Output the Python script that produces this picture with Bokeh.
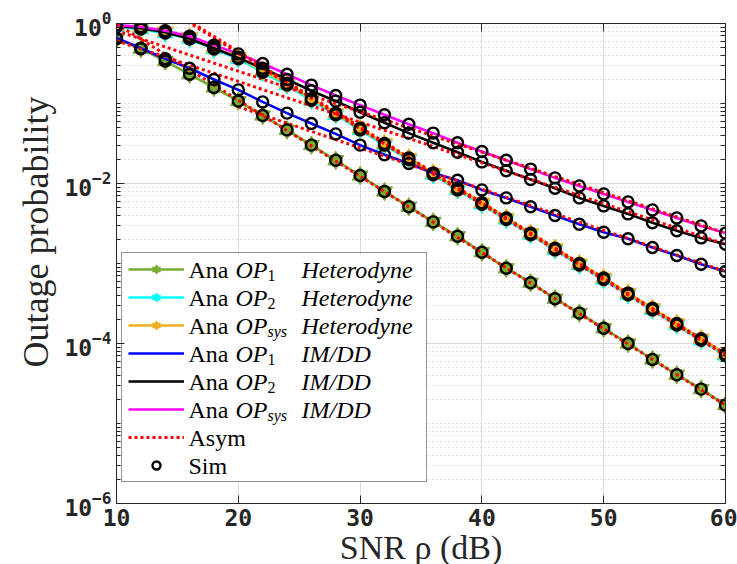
import numpy as np
from bokeh.plotting import figure
from bokeh.models import (FixedTicker, LogAxis, LinearAxis, Legend, LegendItem,
                          Range1d, BoxAnnotation, ColumnDataSource)
from bokeh.core.properties import value
from bokeh.embed import file_html
from bokeh.resources import INLINE

# ---------------- data ----------------
snr_db = [10, 12, 14, 16, 18, 20, 22, 24, 26, 28, 30, 32, 34, 36, 38, 40,
          42, 44, 46, 48, 50, 52, 54, 56, 58, 60]

# log10(outage probability)
het_op1_exp = [-0.19, -0.315, -0.47, -0.635, -0.80, -0.97, -1.15, -1.33, -1.52, -1.71,
               -1.90, -2.10, -2.29, -2.48, -2.66, -2.86, -3.06, -3.24, -3.44, -3.62,
               -3.81, -4.00, -4.20, -4.39, -4.57, -4.77]
het_op2_exp = [-0.04, -0.07, -0.12, -0.19, -0.32, -0.44, -0.61, -0.77, -0.96, -1.14,
               -1.33, -1.52, -1.70, -1.89, -2.08, -2.26, -2.45, -2.64, -2.83, -3.02,
               -3.20, -3.39, -3.58, -3.77, -3.96, -4.15]
het_sys_exp = [-0.025, -0.05, -0.10, -0.17, -0.30, -0.42, -0.59, -0.75, -0.94, -1.12,
               -1.31, -1.50, -1.68, -1.87, -2.06, -2.24, -2.43, -2.62, -2.81, -3.00,
               -3.18, -3.37, -3.56, -3.75, -3.94, -4.13]
imdd_op1_exp = [-0.18, -0.31, -0.44, -0.56, -0.70, -0.83, -0.98, -1.12, -1.25, -1.38,
                -1.52, -1.64, -1.75, -1.87, -1.96, -2.08, -2.18, -2.29, -2.40, -2.51,
                -2.61, -2.69, -2.80, -2.90, -3.01, -3.10]
imdd_op2_exp = [-0.03, -0.06, -0.11, -0.19, -0.31, -0.43, -0.56, -0.70, -0.84, -0.97,
                -1.11, -1.24, -1.37, -1.49, -1.61, -1.73, -1.84, -1.95, -2.06, -2.18,
                -2.28, -2.38, -2.49, -2.59, -2.68, -2.76]
imdd_sys_exp = [-0.02, -0.04, -0.09, -0.16, -0.27, -0.38, -0.50, -0.635, -0.77, -0.90,
                -1.02, -1.14, -1.26, -1.37, -1.49, -1.60, -1.71, -1.82, -1.93, -2.03,
                -2.13, -2.23, -2.33, -2.43, -2.53, -2.62]

# asymptotes: straight lines between two end SNRs (log10 values)
asym_het_snr = [10, 60]
asym_het_op1_exp = [-0.005, -4.77]
asym_het_op2_exp = [0.575, -4.15]
asym_het_sys_exp = [0.595, -4.13]
asym_imdd_op1_snr = [20, 60]
asym_imdd_op1_exp = [-1.04, -3.10]
asym_imdd_snr = [10, 60]
asym_imdd_op2_exp = [-0.215, -2.76]
asym_imdd_sys_exp = [-0.09, -2.62]

x_ticks = [10, 20, 30, 40, 50, 60]
y_ticks = [1e-6, 1e-4, 1e-2, 1e0]

# legend texts
legend_subs = ["1", "2", "sys", "1", "2", "sys"]
legend_modes = ["Heterodyne", "Heterodyne", "Heterodyne", "IM/DD", "IM/DD", "IM/DD"]
legend_extra = ["Asym", "Sim"]


def p10(e):
    return list(10.0 ** np.asarray(e, dtype=float))


# ---------------- figure ----------------
FW, FH = 609, 480
X0, X1, Y0, Y1 = 10, 60, 1e-6, 1
p = figure(frame_width=FW, frame_height=FH,
           min_border_left=116, min_border_right=12, min_border_top=23, min_border_bottom=61,
           x_range=Range1d(X0, X1), y_range=Range1d(Y0, Y1), y_axis_type="log",
           output_backend="svg", toolbar_location=None)
p.background_fill_color = "white"
p.border_fill_color = "white"
p.outline_line_color = "#262626"
p.outline_line_width = 1

AX = "#262626"
minor_y = [m * 10.0 ** k for k in range(-6, 0) for m in range(1, 10)]
yticker = FixedTicker(ticks=y_ticks, minor_ticks=minor_y)
xticker = FixedTicker(ticks=x_ticks, minor_ticks=[])

for ax in (p.xaxis[0], p.yaxis[0]):
    ax.axis_line_color = AX
    ax.major_tick_line_color = AX
    ax.minor_tick_line_color = AX
    ax.major_tick_in = 8
    ax.major_tick_out = 0
    ax.minor_tick_in = 4
    ax.minor_tick_out = 0
    ax.major_label_text_font = "DejaVu Sans Mono"
    ax.major_label_text_font_style = "bold"
    ax.major_label_text_font_size = "23px"
    ax.major_label_text_color = AX
    ax.axis_label_text_font = "Liberation Serif"
    ax.axis_label_text_font_style = "normal"
    ax.axis_label_text_color = AX

p.xaxis[0].ticker = xticker
p.yaxis[0].ticker = yticker
p.xaxis[0].axis_label = "SNR ρ (dB)"
p.xaxis[0].axis_label_text_font_size = "34px"
# leading no-break spaces lift the title a little along the axis, as in the original
p.yaxis[0].axis_label = "\u00a0" * 7 + "Outage probability"
p.yaxis[0].axis_label_text_font_size = "36px"
p.xaxis[0].major_label_standoff = 5
p.yaxis[0].major_label_standoff = 5
p.xaxis[0].axis_label_standoff = 0
p.yaxis[0].axis_label_standoff = 5

# box ticks on the right and top (tick marks only, no labels)
right = LogAxis(ticker=FixedTicker(ticks=[], minor_ticks=minor_y),
                major_tick_in=0, major_tick_out=0, minor_tick_in=5, minor_tick_out=0,
                axis_line_color=AX, minor_tick_line_color=AX)
top = LinearAxis(ticker=FixedTicker(ticks=[], minor_ticks=x_ticks),
                 major_tick_in=0, major_tick_out=0, minor_tick_in=8, minor_tick_out=0,
                 axis_line_color=AX, minor_tick_line_color=AX)
p.add_layout(right, "right")
p.add_layout(top, "above")

p.xgrid.ticker = xticker
p.ygrid.ticker = yticker
p.xgrid.grid_line_color = "#DCDCDC"
p.ygrid.grid_line_color = "#DCDCDC"
p.ygrid.minor_grid_line_color = "#C4C4C4"
p.ygrid.minor_grid_line_dash = "1 3"
p.ygrid.minor_grid_line_width = 1

# ---------------- glyphs ----------------
GREEN, CYAN, ORANGE = "#77AC30", "#00FFFF", "#EDB120"
BLUE, BLACK, MAGENTA, RED = "#0000FF", "#000000", "#FF00FF", "#FF0000"
LW = 2.6
STAR = 16

# legend geometry (screen pixels, relative to the plot frame's bottom-left)
PAD, GW, GH, SP, STANDOFF, LABW = 6, 56, 20, 8, 5, 231
LEG_X, LEG_Y = 5, 21
N_ITEMS = 8
leg_h = 2 * PAD + N_ITEMS * GH + (N_ITEMS - 1) * SP
leg_w = 2 * PAD + GW + STANDOFF + LABW

# white legend background (under the legend's glyph samples and the label texts)
p.add_layout(BoxAnnotation(left=LEG_X, right=LEG_X + leg_w, bottom=LEG_Y, top=LEG_Y + leg_h,
                           left_units="screen", right_units="screen",
                           bottom_units="screen", top_units="screen",
                           fill_color="white", fill_alpha=1.0, line_alpha=0,
                           level="underlay"))

het_series = [(het_op1_exp, GREEN), (het_op2_exp, CYAN), (het_sys_exp, ORANGE)]
imdd_series = [(imdd_op1_exp, BLUE), (imdd_op2_exp, BLACK), (imdd_sys_exp, MAGENTA)]

legend_renderers = []
for e, c in het_series:
    y = p10(e)
    rl = p.line(snr_db, y, line_color=c, line_width=LW)
    ru = p.scatter(snr_db, y, marker="triangle", size=STAR, fill_color=c, line_color=c, line_width=1)
    rd = p.scatter(snr_db, y, marker="inverted_triangle", size=STAR, fill_color=c, line_color=c, line_width=1)
    legend_renderers.append([rl, ru, rd])

for e, c in imdd_series:
    rl = p.line(snr_db, p10(e), line_color=c, line_width=LW)
    legend_renderers.append([rl])

asym_r = None
for xs, e in ((asym_het_snr, asym_het_op1_exp), (asym_het_snr, asym_het_op2_exp),
              (asym_het_snr, asym_het_sys_exp), (asym_imdd_op1_snr, asym_imdd_op1_exp),
              (asym_imdd_snr, asym_imdd_op2_exp), (asym_imdd_snr, asym_imdd_sys_exp)):
    r = p.line(xs, p10(e), line_color=RED, line_width=3, line_dash="3 3")
    if asym_r is None:
        asym_r = r
legend_renderers.append([asym_r])

sim_r = None
for e in (het_op1_exp, het_op2_exp, het_sys_exp, imdd_op1_exp, imdd_op2_exp, imdd_sys_exp):
    r = p.scatter(snr_db, p10(e), marker="circle", size=11, fill_color=None,
                  line_color="black", line_width=2.4)
    if sim_r is None:
        sim_r = r
legend_renderers.append([sim_r])

# ---------------- legend (glyph samples by Bokeh, rich text as text glyphs) ----------------
items = [LegendItem(label="\u00a0" * (i + 1), renderers=r) for i, r in enumerate(legend_renderers)]
legend = Legend(items=items, location=(LEG_X, LEG_Y), glyph_width=GW, glyph_height=GH,
                label_height=GH, label_width=LABW, label_standoff=STANDOFF, spacing=SP,
                padding=PAD, margin=0, border_line_color=AX, border_line_width=1,
                background_fill_alpha=0.0, label_text_font_size="10px")
p.add_layout(legend)

# baselines, in pixels above the frame bottom
row_base = [LEG_Y + leg_h - PAD - GH / 2 - i * (GH + SP) + 0.5 for i in range(N_ITEMS)]
X_ANA, X_OP, X_SUB, X_MODE = 72, 119, 151, 185
FS = "24px"


def text_group(texts, xoffs, yups, size, style):
    n = len(texts)
    src = ColumnDataSource(dict(x=[X0] * n, y=[Y0] * n, text=texts,
                                xo=xoffs, yo=[-v for v in yups]))
    p.text(x="x", y="y", text="text", x_offset="xo", y_offset="yo", source=src,
           text_font=value("Liberation Serif"), text_font_style=style,
           text_font_size=value(size), text_color="black",
           text_align="left", text_baseline="alphabetic")


rows6 = list(range(6))
text_group(["Ana"] * 6 + legend_extra, [X_ANA] * 8, row_base, FS, "normal")
text_group(["OP"] * 6 + legend_modes, [X_OP] * 6 + [X_MODE] * 6,
           [row_base[i] for i in rows6] * 2, FS, "italic")
sub_idx_r = [i for i in rows6 if legend_subs[i] != "sys"]
sub_idx_i = [i for i in rows6 if legend_subs[i] == "sys"]
text_group([legend_subs[i] for i in sub_idx_r], [X_SUB] * len(sub_idx_r),
           [row_base[i] - 5 for i in sub_idx_r], "16px", "normal")
text_group([legend_subs[i] for i in sub_idx_i], [X_SUB] * len(sub_idx_i),
           [row_base[i] - 5 for i in sub_idx_i], "16px", "italic")

open("out.html", "w").write(file_html(p, INLINE))
